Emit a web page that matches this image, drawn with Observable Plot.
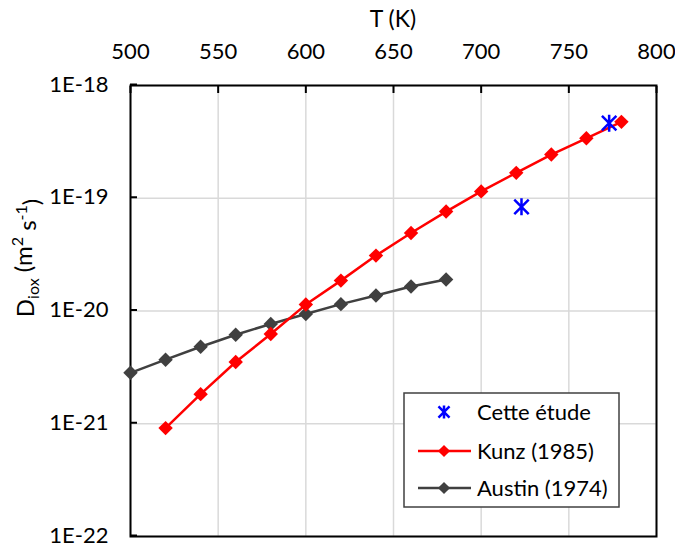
<!DOCTYPE html>
<html>
<head>
<meta charset="utf-8">
<script src="https://cdn.jsdelivr.net/npm/d3@7"></script>
<script src="https://cdn.jsdelivr.net/npm/@observablehq/plot@0.6"></script>
<style>
  html, body { margin: 0; padding: 0; background: #fff; }
  #chart { width: 675px; height: 546px; }
</style>
</head>
<body>
<div id="chart"></div>
<script>
// ---- data ----
const kunzT = [520, 540, 560, 580, 600, 620, 640, 660, 680, 700, 720, 740, 760, 780];
const kunzD = [9.15e-22, 1.83e-21, 3.53e-21, 6.25e-21, 1.14e-20, 1.86e-20, 3.10e-20, 4.92e-20, 7.62e-20, 1.15e-19, 1.68e-19, 2.44e-19, 3.40e-19, 4.76e-19];
const austinT = [500, 520, 540, 560, 580, 600, 620, 640, 660, 680];
const austinD = [2.83e-21, 3.70e-21, 4.82e-21, 6.16e-21, 7.67e-21, 9.40e-21, 1.15e-20, 1.37e-20, 1.65e-20, 1.90e-20];
const cetteT = [723, 773];
const cetteD = [8.4e-20, 4.63e-19];
const xTicks = [500, 550, 600, 650, 700, 750, 800];
const yTicks = [1e-22, 1e-21, 1e-20, 1e-19, 1e-18];
const yTickLabels = ["1E-22", "1E-21", "1E-20", "1E-19", "1E-18"];
const seriesNames = ["Cette étude", "Kunz (1985)", "Austin (1974)"];
const seriesColors = ["#0000ff", "#ff0000", "#404040"];

const kunz = kunzT.map((T, i) => ({T, D: kunzD[i]}));
const austin = austinT.map((T, i) => ({T, D: austinD[i]}));
const cette = cetteT.map((T, i) => ({T, D: cetteD[i]}));

const FONT = "Lato, 'Open Sans', sans-serif";
const FS = "22px";

// Excel-style star marker: vertical bar + X
const starSymbol = {
  draw(context, size) {
    const r = Math.sqrt(size / Math.PI);
    const d = r * 0.85;
    context.moveTo(0, -r); context.lineTo(0, r);
    context.moveTo(-d, -d); context.lineTo(d, d);
    context.moveTo(-d, d); context.lineTo(d, -d);
  }
};

const plot = Plot.plot({
  width: 675,
  height: 546,
  marginLeft: 130,
  marginRight: 19,
  marginTop: 85,
  marginBottom: 10,
  style: {fontFamily: FONT, fontSize: FS, background: "#fff", color: "#000", overflow: "visible"},
  x: {domain: [500, 800], label: null},
  y: {type: "log", domain: [1e-22, 1e-18], label: null},
  marks: [
    Plot.gridX(xTicks, {stroke: "#d9d9d9", strokeOpacity: 1, strokeWidth: 1.5}),
    Plot.gridY(yTicks, {stroke: "#d9d9d9", strokeOpacity: 1, strokeWidth: 1.5}),
    Plot.frame({stroke: "#000", strokeWidth: 2}),
    Plot.axisX(xTicks, {anchor: "top", tickSize: -7, tickPadding: 34, strokeWidth: 2, label: null, tickFormat: d => String(d), fill: "#000"}),
    Plot.axisY(yTicks, {anchor: "left", tickSize: -7, tickPadding: 29, strokeWidth: 2, label: null, dy: -1,
      tickFormat: d => yTickLabels[yTicks.indexOf(d)], fill: "#000"}),
    Plot.line(austin, {x: "T", y: "D", stroke: seriesColors[2], strokeWidth: 2.5}),
    Plot.dot(austin, {x: "T", y: "D", symbol: "diamond2", fill: seriesColors[2], stroke: "none", r: 6.5}),
    Plot.line(kunz, {x: "T", y: "D", stroke: seriesColors[1], strokeWidth: 2.5}),
    Plot.dot(kunz, {x: "T", y: "D", symbol: "diamond2", fill: seriesColors[1], stroke: "none", r: 6.5}),
    Plot.dot(cette, {x: "T", y: "D", symbol: starSymbol, fill: "none", stroke: seriesColors[0], strokeWidth: 2.5, r: 8.5})
  ]
});

document.getElementById("chart").appendChild(plot);

const svg = d3.select(plot);
const xs = plot.scale("x");
const x0 = xs.range[0], x1 = xs.range[1];

// x axis title
svg.append("text")
  .attr("x", (x0 + x1) / 2).attr("y", 27)
  .attr("text-anchor", "middle")
  .attr("fill", "#000")
  .style("font-family", FONT).style("font-size", "23px")
  .text("T (K)");

// y axis title with sub/superscripts
const yl = svg.append("text")
  .attr("transform", `translate(34,258) rotate(-90)`)
  .attr("text-anchor", "middle")
  .attr("fill", "#000")
  .style("font-family", FONT).style("font-size", "24px");
yl.append("tspan").text("D");
yl.append("tspan").attr("dy", "0.3em").style("font-size", "16px").text("iox");
yl.append("tspan").attr("dy", "-0.3em").text(" (m");
yl.append("tspan").attr("dy", "-0.55em").style("font-size", "16px").text("2");
yl.append("tspan").attr("dy", "0.55em").text(" s");
yl.append("tspan").attr("dy", "-0.55em").style("font-size", "16px").text("-1");
yl.append("tspan").attr("dy", "0.55em").text(")");

// legend
const lg = svg.append("g");
lg.append("rect").attr("x", 404).attr("y", 393).attr("width", 215).attr("height", 114)
  .attr("fill", "#fff").attr("stroke", "#404040").attr("stroke-width", 1.5);
const rows = [412, 451, 488];
seriesNames.forEach((name, i) => {
  const cy = rows[i];
  if (i === 0) {
    lg.append("path").attr("transform", `translate(444,${cy})`)
      .attr("d", d3.symbol(starSymbol, Math.PI * 42)())
      .attr("fill", "none").attr("stroke", seriesColors[i]).attr("stroke-width", 2.5);
  } else {
    lg.append("line").attr("x1", 418).attr("x2", 471).attr("y1", cy).attr("y2", cy)
      .attr("stroke", seriesColors[i]).attr("stroke-width", 2.5);
    lg.append("path").attr("transform", `translate(444,${cy})`)
      .attr("d", d3.symbol(d3.symbolDiamond2, Math.PI * 30)())
      .attr("fill", seriesColors[i]);
  }
  lg.append("text").attr("x", 477).attr("y", cy).attr("dy", "0.35em")
    .attr("text-anchor", "start")
    .attr("fill", "#000")
    .style("font-family", FONT).style("font-size", FS)
    .text(name);
});
</script>
</body>
</html>
